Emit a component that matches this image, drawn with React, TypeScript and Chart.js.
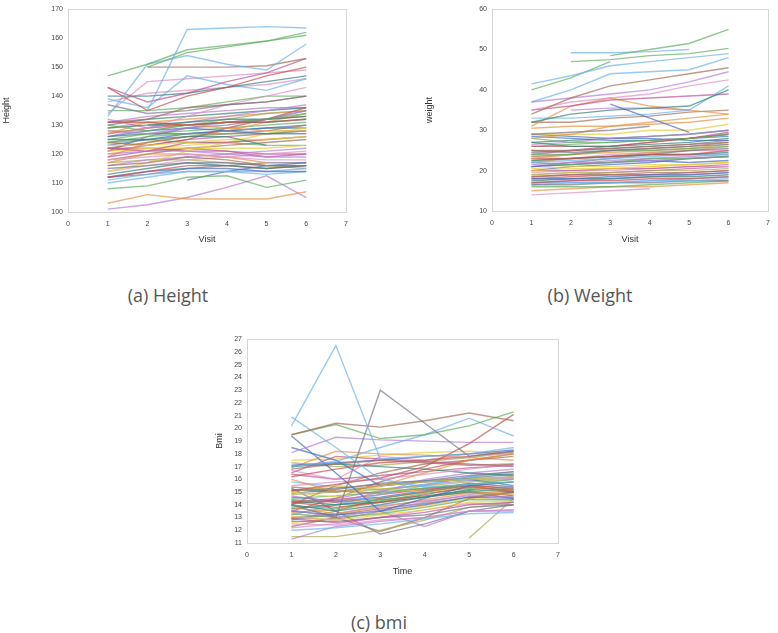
import React, { useEffect, useRef } from 'react';
import { Chart, registerables } from 'chart.js';
Chart.register(...registerables);

const visits = [1, 2, 3, 4, 5, 6];

const heightSeries: (number | null)[][] = [
  [null, 135, 163, 163.5, 164, 163.5],
  [147, 151, 156, 157.5, 159, 162],
  [null, 150, 155, 157, 159, 161],
  [133, 151, 154, 151, 149, 158],
  [null, 150, 150, 150, 150.5, 153],
  [143, 138, 141, 145, 148, 153],
  [143, 135, 140, 143, 147, 150],
  [140, 140, 141, 143, 145, 147],
  [139, 136, 147, 144, 142, 146],
  [138, 141, 142, 143, 144, 146],
  [137, 134, 135, 137, 138, 140],
  [134, 145, 146, 147, 148, 149],
  [131, 132, 136, 137, 138, 140],
  [131, 131, 130, 131, 131, 132],
  [130, 128, 130, 131, 132, 134],
  [129, 130, 131, 132, 132, 133],
  [128, 127, 129, 131, 132, 135],
  [127, 131, 130, 129, 128, 128],
  [126, 128, 129, 128, 127, 127],
  [125, 125, 126, 126, 123, null],
  [124, 126, 127, 127, 127, 128],
  [123, 123, 124, 125, 125, 126],
  [122, 121, 124, 124, 125, 126],
  [122, 124, 126, 127, 128, 130],
  [121, 122, 122, 122, 122, 123],
  [120, 121, 121, 120, 119, 119],
  [119, 121, 122, 121, 119, 120],
  [118, 119, 120, 119, 118, 118],
  [117, 120, 120, 119, 117, null],
  [116, 117, 119, 118, 116, 116],
  [115, 116, 117, 117, 116, 116],
  [113, 115, 117, 116, 115, 116],
  [112, 114, 116, 116, 115, 116],
  [112, 114, 115, 115, 114, 114],
  [111, 113, 114, 114, 114, 115],
  [110, 112, 114, 114, 113, 114],
  [108, 109, 112, 112.5, 108.5, 111],
  [103, 106, 104.5, 104.5, 104.5, 107],
  [101, 102.5, 105, 108.5, 112.5, 105],
  [null, null, 111, 114, 116, 117],
  [null, 130, 130, 131, 131, 132],
  [132, 129, 131, 133, 135, 137],
  [126, 129, 133, 137, 140, 143],
  [124, 123, 125, 129, 132, 136],
  [119, 124, 126, 128, 131, 134],
  [114, 117, 121, 124, 127, 129],
  [121, 126, 129, 130, 132, 135],
  [128, 128, 130, 132, 134, 135],
  [130, 132, 133, 134, 135, 136],
  [135, 135, 136, 138, 140, 140],
  [127, 129, 130, 131, 132, 133],
  [125, 127, 128, 129, 130, 131],
  [123, 125, 127, 128, 129, 130],
  [121, 123, 125, 126, 127, 128],
  [120, 122, 123, 124, 125, 126],
  [118, 120, 122, 123, 124, 125],
  [116, 118, 119, 120, 121, 122],
  [114, 116, 118, 119, 120, 121],
  [112, 113, 115, 116, 117, 117],
  [129, 131, 132, 133, 134, 135],
  [126, 127, 127, 128, 129, 129],
  [131, 133, 134, 135, 136, 136],
  [124, 125, 124, 124, 123, 123],
  [122, 122, 121, 121, 120, 120],
  [117, 118, 118, 117, 116, 115],
];
const heightColors = [0, 1, 1, 0, 2, 4, 8, 7, 0, 12, 9, 12, 2, 8, 1, 7, 3, 5, 11, 7, 1, 6, 4, 2, 6, 3, 4, 12, 5, 2, 9, 7, 8, 11, 0, 0, 1, 5, 3, 11, 7, 3, 12, 8, 5, 6, 9, 10, 7, 1, 8, 1, 11, 4, 6, 2, 3, 12, 9, 5, 7, 3, 1, 4, 10];

const weightSeries: (number | null)[][] = [
  [41.5, 43.5, 46, 47, 48, 49],
  [40, 43, 47, null, null, null],
  [null, 47, 47.5, 48.5, 49, 50.3],
  [null, null, 48.5, 50, 51.5, 55],
  [null, 49.2, 49.2, 49.5, 50, null],
  [37, 40, 44, 44.5, 45, 48],
  [34, 38, 41, 42.5, 44, 45.5],
  [37, 38, 39, 40, 42, 44.5],
  [35, 37, 38, 39, 41, 42.5],
  [32, 34, 35, 35.5, 36, 40],
  [null, null, 36.5, 33, 29.5, null],
  [33, 33, 33.5, 34, 35, 41],
  [35, 36, 37.5, 38, 38.5, 39],
  [31, 36, 38, 36, 35, 34],
  [32, 32, 33, 33.5, 34.5, 35],
  [29, 29.5, 30, 31, null, null],
  [28, 29, 31, 32, 33, 34],
  [29, 29, 29, 30, 30, 31.5],
  [28, 27, 27, 27.5, 28, 29],
  [27, 26, 26, 26.5, 27, 28],
  [26.5, 27, 28, 28.5, 29, 30],
  [26, 26, 26, 27, 28, 29],
  [25, 25, 25.5, 26, 26.5, 27],
  [25, 24.5, 25, 25.5, 26, 26.5],
  [24, 24, 25, 25, 25.5, 26],
  [23, 24, 24.5, 25, 25.5, 26.5],
  [23, 23, 23.5, 24, 24, 25],
  [22.5, 23, 23.5, 24, 24, 24.5],
  [22, 22.5, 23, 23.5, 24, 24],
  [22, 21.5, 22, 23, 23, 23.5],
  [21.5, 22, 22, 22.5, 23, 23.5],
  [21, 21.5, 22, 22.5, 22, 22.5],
  [20.5, 21, 21, 21.5, 21.5, 22],
  [20, 20.5, 20.5, 21, 21.5, 22],
  [20, 20, 20.5, 20.5, 21, 21.5],
  [19.5, 20, 20, 20.5, 21, 21],
  [19, 19.5, 19.5, 20, 20, 20.5],
  [18.5, 19, 19, 19.5, 19.5, 20],
  [18, 18, 18.5, 19, 19, 19.5],
  [17.5, 18, 18, 18.5, 18.5, 19],
  [17, 17.5, 17.5, 18, 18, 18.5],
  [17, 17, 17, 17.5, 17.5, 18],
  [16.5, 16.5, 17, 17, 17.5, 17.5],
  [16, 16, 16, 16.5, 17, 17.5],
  [15, 15.5, 16, 16, 16.5, 17],
  [14, 14.5, 15, 15.5, null, null],
  [null, 35, 35.5, 35.5, 35, null],
  [29, 28.5, 28, 28, 27.5, 27.5],
  [24, 25, 26, 27, 28, 29.5],
  [21, 22, 23, 24, 25, 25.5],
  [23.5, 24, 25, 25.5, 26, 27],
  [22, 23, 23.5, 24.5, 25, 26],
  [21, 21.5, 22.5, 23, 23.5, 24],
  [20, 21, 21.5, 22, 23, 23.5],
  [19, 19.5, 20.5, 21, 21.5, 22],
  [18.5, 19, 19.5, 20, 20.5, 21],
  [18, 18.5, 19, 19, 19.5, 20],
  [17, 17.5, 18, 18.5, 19, 19.5],
  [16.5, 17, 17, 17.5, 18, 18.5],
  [26, 26.5, 27, 27.5, 28, 29],
  [27, 27.5, 28, 28.5, 29, 30],
  [24.5, 25, 25.5, 26, 26.5, 27.5],
  [28.5, 28, 27.5, 27.5, 28, 28.5],
  [22.5, 23, 24, 24.5, 25, 25],
  [30.5, 31, 31, 31.5, 32, 33],
];
const weightColors = [0, 1, 1, 1, 0, 0, 2, 3, 12, 7, 11, 0, 4, 5, 2, 9, 5, 6, 1, 7, 3, 8, 2, 9, 1, 5, 8, 7, 0, 1, 3, 11, 6, 6, 4, 12, 10, 2, 11, 7, 8, 0, 9, 1, 5, 12, 3, 11, 4, 9, 2, 5, 3, 11, 6, 4, 8, 3, 0, 1, 7, 9, 11, 12, 5];

const bmiSeries: (number | null)[][] = [
  [20.2, 26.5, 17.6, 17.8, 18.0, 18.5],
  [14.0, 13.0, 23.0, 20.4, 17.8, 18.2],
  [19.5, 20.4, 20.1, 20.6, 21.2, 20.6],
  [19.5, 20.3, 19.2, 19.5, 20.2, 21.3],
  [20.9, 18.5, 16.0, 15.4, 15.6, 15.8],
  [17.0, 17.4, 18.5, 19.5, 20.8, 19.4],
  [15.1, 15.6, 16.1, 17.0, 18.8, 21.1],
  [18.1, 19.3, 19.1, 19.0, 18.9, 18.9],
  [19.4, 16.5, 13.5, 14.5, 15.5, 15.8],
  [16.8, 17.2, 17.5, 17.3, 17.1, 17.2],
  [17.1, 17.3, 17.5, 17.8, 18.0, 18.3],
  [16.5, 17.8, 17.6, 17.4, 17.2, 17.0],
  [16.2, 16.8, 17.3, 17.5, 17.8, 18.2],
  [16.0, 15.0, 15.5, 16.5, 17.5, 18.0],
  [15.5, 15.8, 16.0, 16.4, 16.8, 17.2],
  [15.1, 15.3, 15.6, 15.9, 16.3, 16.6],
  [15.0, 14.6, 15.5, 15.8, 16.0, 16.2],
  [14.8, 15.0, 15.2, 15.5, 15.8, 16.0],
  [14.5, 14.7, 15.0, 15.3, 15.6, 15.8],
  [14.4, 14.2, 14.5, 15.0, 15.5, 15.0],
  [14.2, 13.8, 14.2, 14.8, 15.4, 15.1],
  [14.0, 13.5, 14.0, 14.6, 15.2, 15.0],
  [13.8, 13.3, 13.8, 14.4, 14.9, 14.8],
  [13.6, 13.0, 13.6, 14.2, 14.8, 14.6],
  [13.5, 13.2, 13.5, 14.0, 14.6, 14.5],
  [13.3, 13.0, 13.3, 13.8, 14.4, 14.4],
  [13.1, 12.8, 13.2, 13.6, 14.2, 14.3],
  [12.9, 12.6, 13.0, 13.4, 14.0, 14.2],
  [12.7, 12.7, 13.0, 13.2, 13.8, 14.0],
  [12.5, 12.4, 12.8, 13.0, 13.5, 13.6],
  [12.0, 12.2, 12.5, 12.9, 13.3, 13.4],
  [11.3, 12.3, 12.7, 13.0, 13.5, 13.6],
  [11.5, 11.5, 12.0, 12.8, 13.8, 14.2],
  [15.3, 13.5, 11.7, 12.5, 13.5, 14.0],
  [13.0, 12.8, 13.5, 12.3, 13.5, 13.5],
  [null, null, null, null, 11.4, 14.5],
  [12.3, 13.0, 11.9, 13.0, 14.5, 15.0],
  [14.3, 14.0, 14.2, 14.6, 15.0, 14.5],
  [15.0, 15.5, 15.3, 15.0, 15.4, 15.0],
  [16.7, 16.0, 17.8, 17.5, 18.0, 18.0],
  [17.0, 17.2, 17.0, 16.8, 16.5, 16.3],
  [13.5, 14.5, 15.8, 16.8, 17.5, 18.0],
  [14.0, 15.5, 16.5, 17.2, 17.5, 17.8],
  [18.5, 17.5, 15.5, 15.8, 16.0, 16.2],
  [16.9, 18.2, 18.0, 17.9, 17.7, 17.5],
  [12.8, 13.5, 14.5, 15.0, 15.6, 16.0],
  [13.2, 14.0, 14.8, 15.5, 16.2, 16.5],
  [14.7, 14.2, 15.0, 16.0, 16.5, 16.8],
  [15.2, 15.0, 15.5, 15.8, 16.0, 15.5],
  [17.5, 17.6, 17.9, 18.1, 18.2, 18.0],
  [14.1, 14.4, 14.8, 15.2, 15.5, 15.3],
  [13.9, 13.7, 14.3, 14.9, 15.3, 15.2],
  [13.4, 13.6, 14.2, 14.6, 15.0, 14.9],
  [14.6, 14.3, 14.6, 15.1, 15.7, 15.4],
  [13.0, 13.3, 13.9, 14.3, 14.7, 14.6],
  [15.4, 15.1, 14.9, 15.3, 15.6, 15.2],
  [12.6, 12.9, 13.4, 13.9, 14.5, 14.4],
  [16.4, 16.0, 16.3, 16.6, 16.9, 17.1],
  [14.9, 15.2, 15.7, 15.9, 16.1, 16.4],
  [12.2, 12.5, 13.0, 13.6, 14.1, 14.0],
  [13.7, 14.0, 14.4, 14.7, 15.1, 14.7],
  [17.3, 17.0, 17.1, 17.4, 17.7, 18.1],
  [15.8, 15.4, 15.2, 15.6, 16.2, 16.6],
  [14.2, 14.5, 15.1, 15.6, 15.9, 16.1],
  [12.9, 13.2, 13.7, 14.1, 14.6, 15.0],
];
const bmiColors = [0, 9, 2, 1, 0, 0, 8, 3, 11, 2, 11, 4, 8, 5, 12, 9, 6, 10, 1, 2, 8, 7, 5, 3, 11, 1, 6, 4, 9, 12, 0, 3, 10, 9, 3, 10, 2, 7, 6, 12, 7, 8, 2, 11, 5, 1, 0, 3, 7, 6, 8, 1, 5, 11, 3, 2, 6, 4, 9, 12, 7, 10, 0, 3, 2];

const palette = [
  'rgba(110,180,235,0.7)',
  'rgba(95,175,95,0.7)',
  'rgba(165,110,90,0.7)',
  'rgba(180,125,215,0.7)',
  'rgba(190,85,150,0.7)',
  'rgba(230,150,70,0.7)',
  'rgba(232,205,60,0.7)',
  'rgba(50,130,115,0.7)',
  'rgba(200,80,80,0.7)',
  'rgba(120,120,140,0.7)',
  'rgba(165,170,90,0.7)',
  'rgba(70,110,190,0.7)',
  'rgba(220,145,195,0.7)',
];

const framePlugin = {
  id: 'frame',
  beforeDraw(chart: any) {
    const { ctx } = chart;
    ctx.save();
    ctx.fillStyle = '#ffffff';
    ctx.fillRect(0, 0, chart.width, chart.height);
    ctx.restore();
  },
  afterDraw(chart: any) {
    const { ctx, chartArea } = chart;
    const { left, top, right, bottom } = chartArea;
    ctx.save();
    ctx.strokeStyle = '#d6d6d6';
    ctx.lineWidth = 1;
    ctx.strokeRect(Math.round(left) + 0.5, Math.round(top) + 0.5, Math.round(right - left), Math.round(bottom - top));
    ctx.restore();
  },
};

type Geo = {
  w: number; h: number;
  padRight: number; padTop: number;
  yWidth: number; xHeight: number;
  yTitlePad: number; xTitlePad: number;
};

function makeConfig(series: (number | null)[][], colors: number[], yMin: number, yMax: number, step: number, yTitle: string, xTitle: string, g: Geo): any {
  return {
    type: 'line',
    data: {
      datasets: series.map((vals, i) => ({
        data: vals.map((v, j) => ({ x: visits[j], y: v })),
        borderColor: palette[colors[i] % palette.length],
        borderWidth: 1.4,
        pointRadius: 0,
        fill: false,
        tension: 0,
        spanGaps: false,
      })),
    },
    options: {
      responsive: false,
      animation: false,
      layout: { padding: { left: 0, right: g.padRight, top: g.padTop, bottom: 0 } },
      plugins: { legend: { display: false }, tooltip: { enabled: false } },
      scales: {
        x: {
          type: 'linear', min: 0, max: 7,
          grid: { display: false, drawTicks: false },
          border: { display: false },
          ticks: { stepSize: 1, autoSkip: false, maxRotation: 0, padding: 8, color: '#444', font: { family: 'Liberation Sans, Arial, sans-serif', size: 7 } },
          title: { display: true, text: xTitle, color: '#333', padding: { top: 0, bottom: g.xTitlePad }, font: { family: 'Liberation Sans, Arial, sans-serif', size: 9 } },
          afterFit: (s: any) => { s.height = g.xHeight; },
        },
        y: {
          type: 'linear', min: yMin, max: yMax,
          grid: { display: false, drawTicks: false },
          border: { display: false },
          ticks: { stepSize: step, autoSkip: false, padding: 5, color: '#444', font: { family: 'Liberation Sans, Arial, sans-serif', size: 7 } },
          title: { display: true, text: yTitle, color: '#333', padding: { top: g.yTitlePad, bottom: 0 }, font: { family: 'Liberation Sans, Arial, sans-serif', size: 9 } },
          afterFit: (s: any) => { s.width = g.yWidth; },
        },
      },
    },
    plugins: [framePlugin],
  };
}

const geoA: Geo = { w: 362, h: 250, padRight: 16, padTop: 5, yWidth: 68, xHeight: 38, yTitlePad: 1, xTitlePad: 4.6 };
const geoB: Geo = { w: 370, h: 250, padRight: 10, padTop: 5, yWidth: 84, xHeight: 39, yTitlePad: 16.6, xTitlePad: 4.6 };
const geoC: Geo = { w: 360, h: 250, padRight: 9, padTop: 9, yWidth: 39, xHeight: 37, yTitlePad: 6.6, xTitlePad: 2.6 };

export default function App() {
  const refA = useRef<HTMLCanvasElement>(null);
  const refB = useRef<HTMLCanvasElement>(null);
  const refC = useRef<HTMLCanvasElement>(null);

  useEffect(() => {
    const a = new Chart(refA.current as HTMLCanvasElement, makeConfig(heightSeries, heightColors, 100, 170, 10, 'Height', 'Visit', geoA));
    const b = new Chart(refB.current as HTMLCanvasElement, makeConfig(weightSeries, weightColors, 10, 60, 10, 'weight', 'Visit', geoB));
    const c = new Chart(refC.current as HTMLCanvasElement, makeConfig(bmiSeries, bmiColors, 11, 27, 1, 'Bmi', 'Time', geoC));
    return () => { a.destroy(); b.destroy(); c.destroy(); };
  }, []);

  const cap: React.CSSProperties = {
    position: 'absolute', width: 200, textAlign: 'center',
    fontFamily: '"Open Sans", "Noto Sans", sans-serif', fontSize: 18, color: '#555', lineHeight: '20px',
  };

  return (
    <div style={{ position: 'absolute', left: 0, top: 0, width: 778, height: 633, background: '#ffffff', overflow: 'hidden' }}>
      <canvas ref={refA} width={geoA.w} height={geoA.h} style={{ position: 'absolute', left: 0, top: 0, width: geoA.w, height: geoA.h }} />
      <canvas ref={refB} width={geoB.w} height={geoB.h} style={{ position: 'absolute', left: 408, top: 0, width: geoB.w, height: geoB.h }} />
      <canvas ref={refC} width={geoC.w} height={geoC.h} style={{ position: 'absolute', left: 208, top: 330, width: geoC.w, height: geoC.h }} />
      <div style={{ ...cap, left: 68, top: 285 }}>(a) Height</div>
      <div style={{ ...cap, left: 490, top: 285 }}>(b) Weight</div>
      <div style={{ ...cap, left: 279, top: 612 }}>(c) bmi</div>
    </div>
  );
}
